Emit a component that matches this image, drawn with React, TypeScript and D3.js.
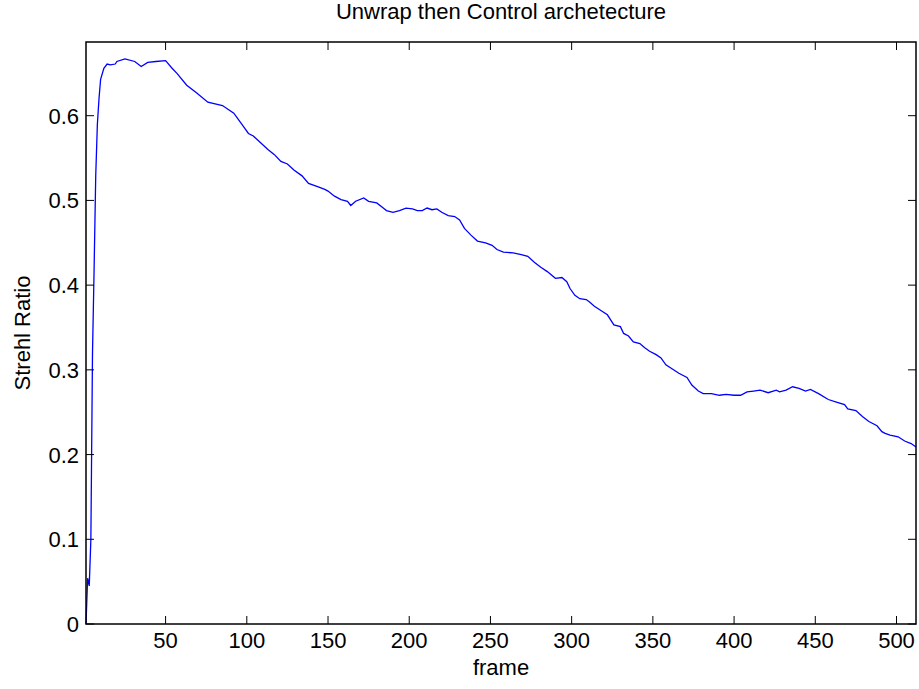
import React from "react";
import * as d3 from "d3";

const frames = [1, 2, 3, 4, 5, 6, 7, 8, 9, 10, 12, 14, 16, 19, 20, 25, 31, 35, 39, 44, 50, 54, 57, 63, 69, 76, 85, 92, 98, 101, 104, 108, 113, 117, 121, 125, 129, 134, 138, 144, 148, 150, 154, 158, 162, 164, 167, 172, 175, 180, 184, 186, 190, 194, 198, 202, 205, 208, 211, 214, 217, 220, 224, 228, 231, 234, 238, 242, 247, 251, 254, 258, 264, 269, 273, 277, 281, 285, 290, 294, 297, 299, 302, 305, 309, 311, 314, 318, 322, 324, 326, 330, 332, 335, 338, 342, 345, 348, 352, 355, 358, 362, 366, 371, 374, 378, 381, 386, 391, 395, 400, 404, 408, 412, 416, 421, 426, 428, 432, 436, 440, 444, 447, 452, 458, 463, 468, 470, 475, 479, 483, 488, 491, 493, 496, 501, 505, 509, 512];

const strehl = [0, 0.054, 0.045, 0.1, 0.32, 0.42, 0.53, 0.59, 0.62, 0.643, 0.656, 0.661, 0.66, 0.661, 0.664, 0.667, 0.664, 0.658, 0.663, 0.664, 0.665, 0.656, 0.65, 0.636, 0.627, 0.616, 0.612, 0.603, 0.587, 0.579, 0.576, 0.569, 0.56, 0.554, 0.546, 0.543, 0.536, 0.529, 0.52, 0.516, 0.513, 0.511, 0.505, 0.501, 0.499, 0.494, 0.499, 0.503, 0.499, 0.497, 0.491, 0.488, 0.486, 0.488, 0.491, 0.49, 0.488, 0.488, 0.491, 0.489, 0.49, 0.486, 0.482, 0.481, 0.477, 0.467, 0.459, 0.452, 0.45, 0.447, 0.442, 0.439, 0.438, 0.436, 0.434, 0.427, 0.421, 0.416, 0.408, 0.409, 0.404, 0.396, 0.388, 0.384, 0.383, 0.38, 0.375, 0.37, 0.365, 0.359, 0.353, 0.351, 0.343, 0.34, 0.333, 0.331, 0.326, 0.322, 0.318, 0.314, 0.306, 0.301, 0.296, 0.291, 0.282, 0.275, 0.272, 0.272, 0.27, 0.271, 0.27, 0.27, 0.274, 0.275, 0.276, 0.273, 0.276, 0.274, 0.276, 0.28, 0.278, 0.275, 0.277, 0.272, 0.265, 0.262, 0.259, 0.254, 0.252, 0.245, 0.239, 0.234, 0.227, 0.225, 0.223, 0.221, 0.216, 0.213, 0.209];

const xTicks = [50, 100, 150, 200, 250, 300, 350, 400, 450, 500];
const yTicks = [0, 0.1, 0.2, 0.3, 0.4, 0.5, 0.6];
const yTickLabels = ["0", "0.1", "0.2", "0.3", "0.4", "0.5", "0.6"];

const title = "Unwrap then Control archetecture";
const xLabel = "frame";
const yLabel = "Strehl Ratio";

const W = 919;
const H = 689;
const L = 86;
const R = 916;
const T = 42;
const B = 624;
const FONT = "'Liberation Sans', Arial, Helvetica, sans-serif";
const FS = 22;
const TICK = 8;

export default function App() {
  const x = d3.scaleLinear().domain([1, 512]).range([L, R]);
  const y = d3.scaleLinear().domain([0, 0.687]).range([B, T]);
  const data = frames.map((f, i) => [f, strehl[i]] as [number, number]);
  const line = d3
    .line<[number, number]>()
    .x((d) => x(d[0]))
    .y((d) => y(d[1]));

  return (
    <svg
      width={W}
      height={H}
      style={{ position: "absolute", left: 0, top: 0, background: "#fff" }}
      fontFamily={FONT}
    >
      <rect x={0} y={0} width={W} height={H} fill="#fff" />
      <path d={line(data) || ""} fill="none" stroke="#0000ff" strokeWidth={1.3} />
      {xTicks.map((t) => (
        <g key={"x" + t}>
          <line x1={x(t)} x2={x(t)} y1={B} y2={B - TICK} stroke="#000" strokeWidth={1} />
          <line x1={x(t)} x2={x(t)} y1={T} y2={T + TICK} stroke="#000" strokeWidth={1} />
          <text x={x(t)} y={B + 24} fontSize={FS} textAnchor="middle" fill="#000">
            {t}
          </text>
        </g>
      ))}
      {yTicks.map((t, i) => (
        <g key={"y" + t}>
          <line x1={L} x2={L + TICK} y1={y(t)} y2={y(t)} stroke="#000" strokeWidth={1} />
          <line x1={R} x2={R - TICK} y1={y(t)} y2={y(t)} stroke="#000" strokeWidth={1} />
          <text x={L - 7} y={y(t) + 8} fontSize={FS} textAnchor="end" fill="#000">
            {yTickLabels[i]}
          </text>
        </g>
      ))}
      <rect x={L} y={T} width={R - L} height={B - T} fill="none" stroke="#000" strokeWidth={1.5} />
      <text x={(L + R) / 2} y={19} fontSize={FS} textAnchor="middle" fill="#000">
        {title}
      </text>
      <text x={(L + R) / 2} y={675} fontSize={FS} textAnchor="middle" fill="#000">
        {xLabel}
      </text>
      <text
        transform={`translate(30,${(T + B) / 2}) rotate(-90)`}
        fontSize={FS}
        textAnchor="middle"
        fill="#000"
      >
        {yLabel}
      </text>
    </svg>
  );
}
